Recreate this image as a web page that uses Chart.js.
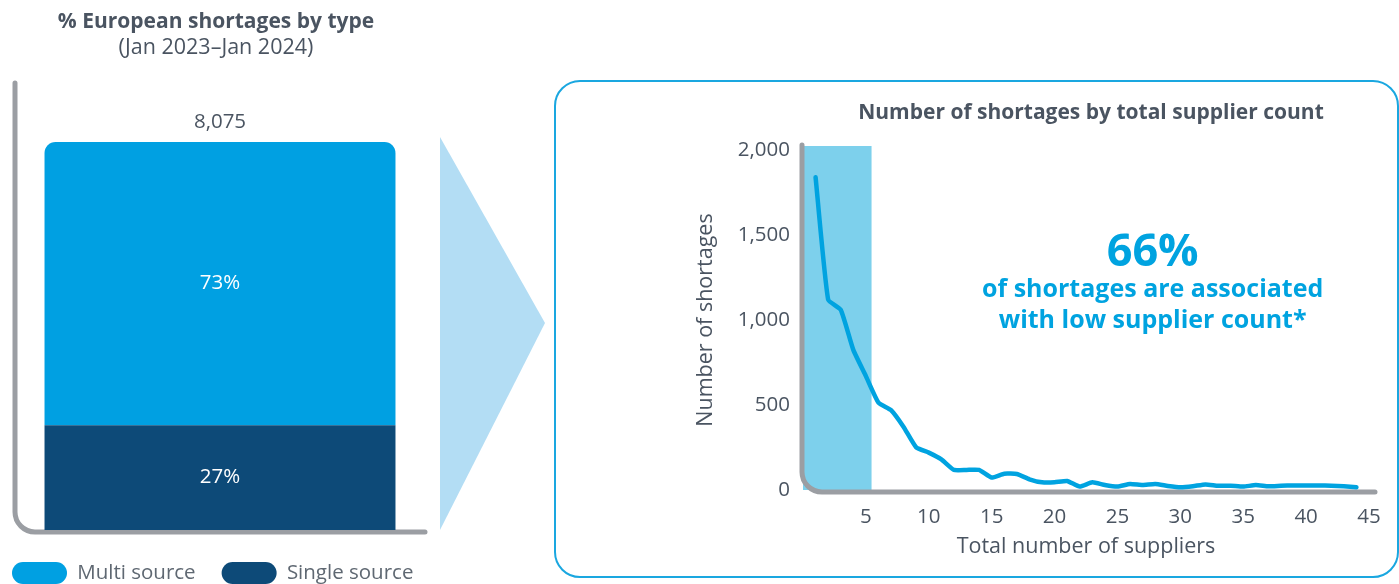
<!DOCTYPE html>
<html>
<head>
<meta charset="utf-8">
<script src="https://cdn.jsdelivr.net/npm/chart.js@4.4.1/dist/chart.umd.min.js"></script>
<style>
  html, body { margin: 0; padding: 0; width: 1399px; height: 584px; overflow: hidden; background: #ffffff; }
  #arrow { position: absolute; left: 0; top: 0; }
  #panel { position: absolute; left: 554px; top: 80px; width: 845px; height: 498px; box-sizing: border-box;
           border: 2px solid #1aa7e0; border-radius: 26px; }
  #shareChart { position: absolute; left: -14px; top: 0; }
  #supplierChart { position: absolute; left: 680px; top: 84px; }
</style>
</head>
<body>
<svg id="arrow" width="1399" height="584"><polygon points="440,137 545,323 440,530" fill="#b3ddf4"/></svg>
<div id="panel"></div>
<canvas id="shareChart" width="460" height="594"></canvas>
<canvas id="supplierChart" width="822" height="490"></canvas>
<script>
// ---- data ----
const sharePeriod = ['Jan 2023–Jan 2024'];
const singleSourcePct = [27];
const multiSourcePct = [73];
const totalShortages = [8075];

const supplierCounts = [1, 2, 3, 4, 5, 6, 7, 8, 9, 10, 11, 12, 13, 14, 15, 16, 17, 18, 19, 20, 21, 22,
                        23, 24, 25, 26, 27, 28, 29, 30, 31, 32, 33, 34, 35, 36, 37, 38, 39, 40, 41, 42, 43, 44];
const shortageCounts = [1840, 1120, 1060, 824, 670, 514, 470, 371, 251, 220, 180, 118, 118, 118, 73, 96, 94, 63, 45, 45, 53, 20,
                        45, 29, 20, 35, 29, 35, 24, 16, 22, 33, 25, 25, 20, 29, 22, 25, 27, 27, 27, 25, 22, 16];
const lowSupplierCutoff = [5];
const calloutLines = ['66%', 'of shortages are associated', 'with low supplier count*'];

// ---- shared styling ----
const FONT = "'Open Sans', sans-serif";
const TEXT_DARK = '#4a5461';
const AXIS_GREY = '#9b9ea3';
const BRIGHT_BLUE = '#00a3e0';
Chart.defaults.font.family = FONT;

const hiddenScale = (extra) => Object.assign({
  display: true,
  ticks: { display: false },
  grid: { display: false },
  border: { display: false }
}, extra);

// rounded L-shaped axis drawn along the chart area
function roundedAxis(offsetTop, dx, dy, extendRight) {
  return {
    id: 'roundedAxis',
    beforeDatasetsDraw(chart) {
      const { ctx, chartArea } = chart;
      const x0 = chartArea.left + dx, y0 = chartArea.bottom + dy, r = 20;
      ctx.save();
      ctx.strokeStyle = AXIS_GREY;
      ctx.lineWidth = 5;
      ctx.lineCap = 'round';
      ctx.beginPath();
      ctx.moveTo(x0, chartArea.top - offsetTop);
      ctx.lineTo(x0, y0 - r);
      ctx.arcTo(x0, y0, x0 + r, y0, r);
      ctx.lineTo(chartArea.right + extendRight, y0);
      ctx.stroke();
      ctx.restore();
    }
  };
}

// ---- left: stacked share bar ----
const barLabels = {
  id: 'barLabels',
  afterDatasetsDraw(chart) {
    const ctx = chart.ctx;
    ctx.save();
    ctx.font = `20.5px ${FONT}`;
    ctx.textAlign = 'center';
    ctx.textBaseline = 'middle';
    chart.data.datasets.forEach((ds, i) => {
      chart.getDatasetMeta(i).data.forEach((bar, j) => {
        const { x, y, base } = bar.getProps(['x', 'y', 'base'], true);
        ctx.fillStyle = '#ffffff';
        ctx.fillText(ds.data[j] + '%', x, (y + base) / 2);
      });
    });
    const topMeta = chart.getDatasetMeta(chart.data.datasets.length - 1);
    topMeta.data.forEach((bar, j) => {
      ctx.fillStyle = TEXT_DARK;
      ctx.fillText(totalShortages[j].toLocaleString('en-US'), bar.x, bar.y - 20);
    });
    ctx.restore();
  }
};

new Chart(document.getElementById('shareChart'), {
  type: 'bar',
  data: {
    labels: sharePeriod,
    datasets: [
      { label: 'Single source', data: singleSourcePct, backgroundColor: '#0d4a78',
        borderWidth: 0, borderSkipped: false, xAxisID: 'x', yAxisID: 'y' },
      { label: 'Multi source', data: multiSourcePct, backgroundColor: '#00a0e2',
        borderWidth: 0, borderSkipped: false,
        borderRadius: { topLeft: 11, topRight: 11, bottomLeft: 0, bottomRight: 0 },
        xAxisID: 'x', yAxisID: 'y' }
    ]
  },
  options: {
    responsive: false,
    animation: false,
    layout: { padding: 0 },
    datasets: { bar: { barPercentage: 0.856, categoryPercentage: 1 } },
    scales: {
      x: hiddenScale({ stacked: true, afterFit(s) { s.height = 6; } }),
      y: hiddenScale({ stacked: true, min: 0, max: 100, afterFit(s) { s.width = 29; } }),
      gutter: hiddenScale({ type: 'linear', position: 'right', afterFit(s) { s.width = 21; } })
    },
    plugins: {
      title: {
        display: true, text: '% European shortages by type', color: TEXT_DARK,
        font: { size: 21, weight: 'bold' }, padding: { top: 9.4, bottom: 0 }
      },
      subtitle: {
        display: true, text: '(Jan 2023–Jan 2024)', color: TEXT_DARK,
        font: { size: 21.5 }, padding: { top: 0, bottom: 81.6 }
      },
      legend: {
        position: 'bottom', align: 'start', reverse: true,
        labels: {
          boxWidth: 55, boxHeight: 22, padding: 26, useBorderRadius: true, borderRadius: 11,
          color: '#5f6872', font: { size: 20.5 }
        }
      },
      tooltip: { enabled: false }
    }
  },
  plugins: [roundedAxis(59, 0, 2, 0), barLabels]
});

// ---- right: shortages by supplier count ----
const lowSupplierBand = {
  id: 'lowSupplierBand',
  beforeDatasetsDraw(chart) {
    const { ctx, chartArea, scales } = chart;
    const x0 = scales.x.getPixelForValue(0);
    const x1 = scales.x.getPixelForValue(lowSupplierCutoff[0] + 0.45);
    ctx.save();
    ctx.fillStyle = '#7dd0ec';
    ctx.fillRect(x0, chartArea.top - 4, x1 - x0, chartArea.bottom - chartArea.top + 4);
    ctx.restore();
  }
};

const callout = {
  id: 'callout',
  afterDraw(chart) {
    const { ctx, scales } = chart;
    const cx = scales.x.getPixelForValue(27.8);
    ctx.save();
    ctx.fillStyle = BRIGHT_BLUE;
    ctx.textAlign = 'center';
    ctx.textBaseline = 'middle';
    ctx.font = `bold 45px ${FONT}`;
    ctx.fillText(calloutLines[0], cx, scales.y.getPixelForValue(1395));
    ctx.font = `bold 25px ${FONT}`;
    ctx.fillText(calloutLines[1], cx, scales.y.getPixelForValue(1175));
    ctx.fillText(calloutLines[2], cx, scales.y.getPixelForValue(995));
    ctx.restore();
  }
};

const tickFont = { size: 20.5 };
const axisTitleFont = { size: 21.5 };
new Chart(document.getElementById('supplierChart'), {
  type: 'line',
  data: {
    datasets: [{
      label: 'Number of shortages',
      data: supplierCounts.map((s, i) => ({ x: s, y: shortageCounts[i] })),
      borderColor: BRIGHT_BLUE, borderWidth: 4.5, pointRadius: 0, tension: 0.15,
      borderCapStyle: 'round', borderJoinStyle: 'round', fill: false,
      xAxisID: 'x', yAxisID: 'y'
    }]
  },
  options: {
    responsive: false,
    animation: false,
    layout: { padding: 0 },
    scales: {
      x: {
        type: 'linear', min: 0, max: 45,
        ticks: { stepSize: 5, padding: 15, color: TEXT_DARK, font: tickFont,
                 callback: v => (v === 0 ? '' : v) },
        grid: { display: false, drawTicks: false }, border: { display: false },
        title: { display: true, text: 'Total number of suppliers', color: TEXT_DARK,
                 font: axisTitleFont, padding: { top: 0, bottom: 14.1 } },
        afterFit(s) { s.height = 84; }
      },
      y: {
        min: 0, max: 2000,
        ticks: { stepSize: 500, padding: 13, color: TEXT_DARK, font: tickFont,
                 callback: v => v.toLocaleString('en-US') },
        grid: { display: false, drawTicks: false }, border: { display: false },
        title: { display: true, text: 'Number of shortages', color: TEXT_DARK,
                 font: axisTitleFont, padding: { top: 13.1, bottom: 0 } },
        afterFit(s) { s.width = 123; }
      },
      gutter: hiddenScale({ type: 'linear', position: 'right', afterFit(s) { s.width = 133; } })
    },
    plugins: {
      legend: { display: false },
      tooltip: { enabled: false },
      title: {
        display: true, text: 'Number of shortages by total supplier count', color: TEXT_DARK,
        font: { size: 21, weight: 'bold' }, padding: { top: 16.4, bottom: 24.4 }
      }
    }
  },
  plugins: [lowSupplierBand, roundedAxis(5, -1, 2, 6), callout]
});
</script>
</body>
</html>
